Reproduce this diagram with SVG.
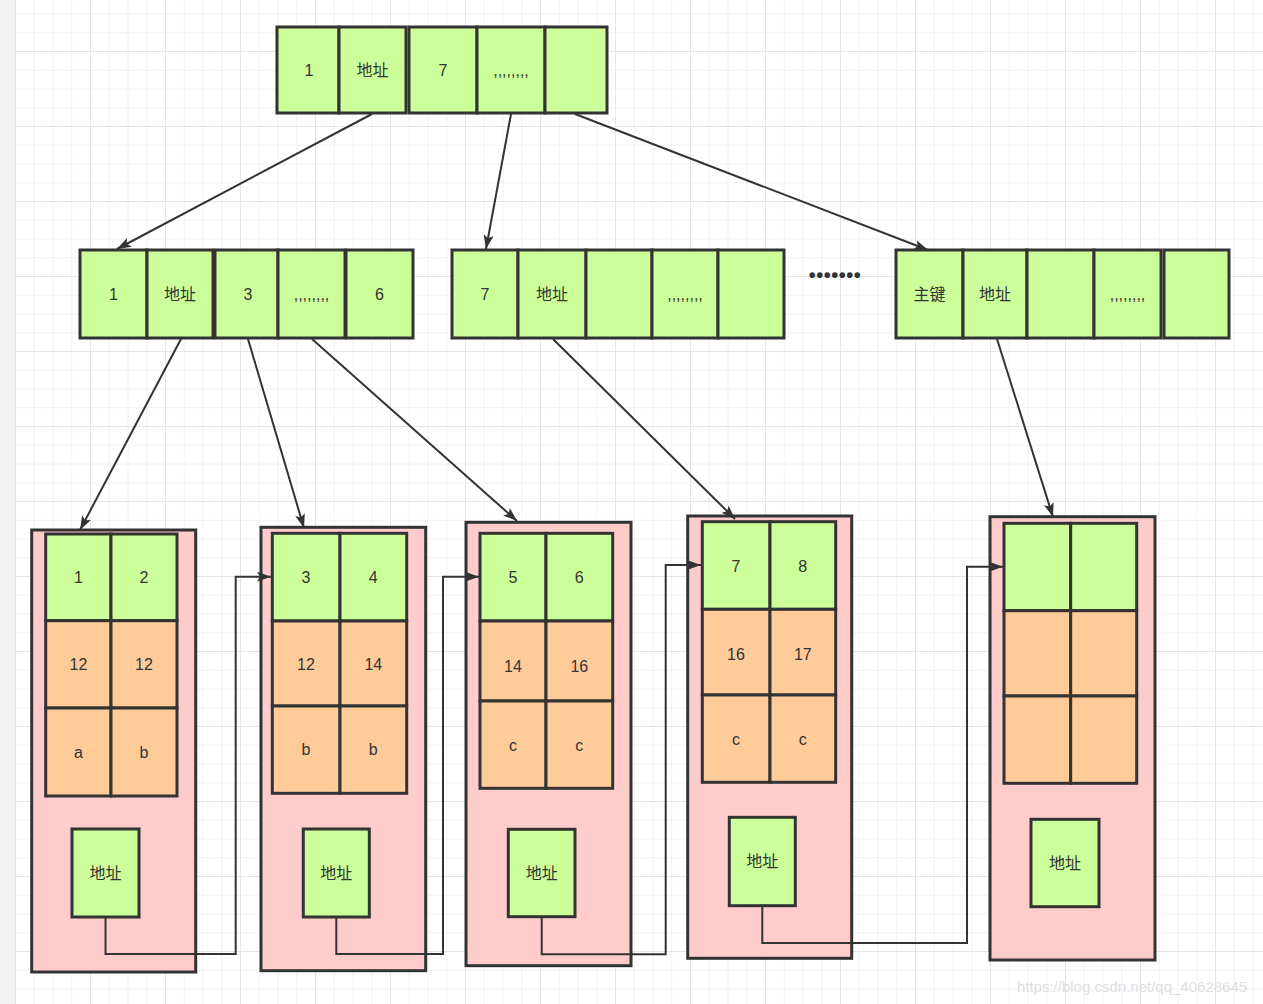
<svg xmlns="http://www.w3.org/2000/svg" width="1263" height="1004" viewBox="0 0 1263 1004">
<style>
.g{fill:#CCFF99;stroke:#333;stroke-width:3}
.o{fill:#FFCC99;stroke:#333;stroke-width:3}
.p{fill:#FFCCCC;stroke:#333;stroke-width:3}
.t{font-family:"Liberation Sans","Noto Sans CJK SC",sans-serif;font-size:16px;fill:#333;text-anchor:middle;dominant-baseline:central}
.c{fill:none;stroke:#333;stroke-width:2}
</style>
<defs>
<pattern id="grid" x="15" y="-24" width="75" height="75" patternUnits="userSpaceOnUse">
<path d="M0 19.25H75M0 38H75M0 56.75H75M19.25 0V75M38 0V75M56.75 0V75" stroke="#f2f2f2" stroke-width="1" fill="none"/>
<path d="M0 0.5H75M0.5 0V75" stroke="#e5e5e5" stroke-width="1" fill="none"/>
</pattern>
<marker id="arr" markerUnits="userSpaceOnUse" markerWidth="16" markerHeight="12" refX="14" refY="5" orient="auto">
<path d="M0,0 L14,5 L0,10 L3,5 Z" fill="#333"/>
</marker>
</defs>
<rect width="1263" height="1004" fill="#fff"/>
<rect width="1263" height="1004" fill="url(#grid)"/>
<rect width="15" height="1004" fill="#f2f2f2"/>

<g id="root">
<rect class="g" x="277" y="27" width="62" height="86"/><text class="t" x="309" y="70">1</text>
<rect class="g" x="339" y="27" width="67" height="86"/><text class="t" x="372.5" y="70">地址</text>
<rect class="g" x="409" y="27" width="68" height="86"/><text class="t" x="443" y="70">7</text>
<rect class="g" x="477" y="27" width="68" height="86"/><text class="t" x="511" y="70">,,,,,,,,</text>
<rect class="g" x="545" y="27" width="62" height="86"/>
</g>

<g id="mid1">
<rect class="g" x="80" y="250" width="67" height="88"/><text class="t" x="113.5" y="294">1</text>
<rect class="g" x="147" y="250" width="66" height="88"/><text class="t" x="180" y="294">地址</text>
<rect class="g" x="215" y="250" width="63" height="88"/><text class="t" x="248" y="294">3</text>
<rect class="g" x="278" y="250" width="67" height="88"/><text class="t" x="311.5" y="294">,,,,,,,,</text>
<rect class="g" x="346" y="250" width="67" height="88"/><text class="t" x="379.5" y="294">6</text>
</g>

<g id="mid2">
<rect class="g" x="452" y="250" width="66" height="88"/><text class="t" x="485" y="294">7</text>
<rect class="g" x="518" y="250" width="68" height="88"/><text class="t" x="552" y="294">地址</text>
<rect class="g" x="586" y="250" width="66" height="88"/>
<rect class="g" x="652" y="250" width="66" height="88"/><text class="t" x="685" y="294">,,,,,,,,</text>
<rect class="g" x="718" y="250" width="66" height="88"/>
</g>

<g id="dots"><text x="835" y="282" style="font-family:'Liberation Sans',sans-serif;font-size:20px;font-weight:bold;letter-spacing:0.5px;fill:#333;text-anchor:middle">•••••••</text></g>

<g id="mid3">
<rect class="g" x="896" y="250" width="67" height="88"/><text class="t" x="929.5" y="294">主键</text>
<rect class="g" x="963" y="250" width="64" height="88"/><text class="t" x="995" y="294">地址</text>
<rect class="g" x="1027" y="250" width="67" height="88"/>
<rect class="g" x="1094" y="250" width="67" height="88"/><text class="t" x="1127.5" y="294">,,,,,,,,</text>
<rect class="g" x="1164" y="250" width="65" height="88"/>
</g>

<g id="leaf1">
<rect class="p" x="31.7" y="530" width="164" height="442"/>
<rect class="g" x="45.7" y="534" width="65.3" height="86.7"/><text class="t" x="78.4" y="577">1</text>
<rect class="g" x="111" y="534" width="66" height="86.7"/><text class="t" x="144" y="577">2</text>
<rect class="o" x="45.7" y="620.7" width="65.3" height="87.3"/><text class="t" x="78.4" y="664.5">12</text>
<rect class="o" x="111" y="620.7" width="66" height="87.3"/><text class="t" x="144" y="664.5">12</text>
<rect class="o" x="45.7" y="708" width="65.3" height="88"/><text class="t" x="78.4" y="752">a</text>
<rect class="o" x="111" y="708" width="66" height="88"/><text class="t" x="144" y="752">b</text>
<rect class="g" x="72" y="829" width="67" height="88"/><text class="t" x="105.5" y="873">地址</text>
</g>

<g id="leaf2">
<rect class="p" x="261" y="527.3" width="164.7" height="443.4"/>
<rect class="g" x="272.3" y="533.3" width="67.7" height="87.7"/><text class="t" x="306" y="577">3</text>
<rect class="g" x="340" y="533.3" width="66.7" height="87.7"/><text class="t" x="373.3" y="577">4</text>
<rect class="o" x="272.3" y="621" width="67.7" height="85"/><text class="t" x="306" y="664.5">12</text>
<rect class="o" x="340" y="621" width="66.7" height="85"/><text class="t" x="373.3" y="664.5">14</text>
<rect class="o" x="272.3" y="706" width="67.7" height="87.3"/><text class="t" x="306" y="749.5">b</text>
<rect class="o" x="340" y="706" width="66.7" height="87.3"/><text class="t" x="373.3" y="749.5">b</text>
<rect class="g" x="303.3" y="829" width="66" height="88"/><text class="t" x="336.3" y="873">地址</text>
</g>

<g id="leaf3">
<rect class="p" x="466" y="522.3" width="165" height="443.4"/>
<rect class="g" x="480" y="533.3" width="66" height="87.7"/><text class="t" x="513" y="577">5</text>
<rect class="g" x="546" y="533.3" width="66.7" height="87.7"/><text class="t" x="579.3" y="577">6</text>
<rect class="o" x="480" y="621" width="66" height="80"/><text class="t" x="513" y="666">14</text>
<rect class="o" x="546" y="621" width="66.7" height="80"/><text class="t" x="579.3" y="666">16</text>
<rect class="o" x="480" y="701" width="66" height="87.3"/><text class="t" x="513" y="745">c</text>
<rect class="o" x="546" y="701" width="66.7" height="87.3"/><text class="t" x="579.3" y="745">c</text>
<rect class="g" x="508.3" y="829.3" width="66.7" height="87.4"/><text class="t" x="541.7" y="873">地址</text>
</g>

<g id="leaf4">
<rect class="p" x="687.7" y="516" width="164" height="442.3"/>
<rect class="g" x="702.3" y="521.7" width="67.7" height="87.6"/><text class="t" x="736" y="566">7</text>
<rect class="g" x="770" y="521.7" width="65.7" height="87.6"/><text class="t" x="802.8" y="566">8</text>
<rect class="o" x="702.3" y="609.3" width="67.7" height="85.7"/><text class="t" x="736" y="654">16</text>
<rect class="o" x="770" y="609.3" width="65.7" height="85.7"/><text class="t" x="802.8" y="654">17</text>
<rect class="o" x="702.3" y="695" width="67.7" height="87.3"/><text class="t" x="736" y="739">c</text>
<rect class="o" x="770" y="695" width="65.7" height="87.3"/><text class="t" x="802.8" y="739">c</text>
<rect class="g" x="729.3" y="817.3" width="66" height="88.4"/><text class="t" x="762.3" y="861">地址</text>
</g>

<g id="leaf5">
<rect class="p" x="990" y="516.7" width="165" height="443.3"/>
<rect class="g" x="1004" y="523.3" width="66.7" height="87.4"/>
<rect class="g" x="1070.7" y="523.3" width="66" height="87.4"/>
<rect class="o" x="1004" y="610.7" width="66.7" height="85.3"/>
<rect class="o" x="1070.7" y="610.7" width="66" height="85.3"/>
<rect class="o" x="1004" y="696" width="66.7" height="87.3"/>
<rect class="o" x="1070.7" y="696" width="66" height="87.3"/>
<rect class="g" x="1031" y="819.3" width="68" height="87.4"/><text class="t" x="1065" y="863">地址</text>
</g>

<g id="connectors">
<line class="c" x1="372" y1="114" x2="117" y2="249" marker-end="url(#arr)"/>
<line class="c" x1="511" y1="114" x2="486" y2="249" marker-end="url(#arr)"/>
<line class="c" x1="575" y1="114" x2="928" y2="250" marker-end="url(#arr)"/>
<line class="c" x1="181" y1="339" x2="80" y2="530" marker-end="url(#arr)"/>
<line class="c" x1="248" y1="339" x2="304" y2="528" marker-end="url(#arr)"/>
<line class="c" x1="312" y1="339" x2="517" y2="521" marker-end="url(#arr)"/>
<line class="c" x1="553" y1="339" x2="735" y2="519" marker-end="url(#arr)"/>
<line class="c" x1="997" y1="339" x2="1053" y2="517" marker-end="url(#arr)"/>
<path class="c" d="M105.5 917V954H235.7V576.7H271" marker-end="url(#arr)"/>
<path class="c" d="M336.3 917V954H443V576.7H479" marker-end="url(#arr)"/>
<path class="c" d="M541.7 917V954.3H665.7V565H701" marker-end="url(#arr)"/>
<path class="c" d="M762.3 906V943H967V566.7H1003" marker-end="url(#arr)"/>
</g>

<text x="1132" y="992" style="font-family:'Liberation Sans',sans-serif;font-size:15px;fill:#dedede;text-anchor:middle">https://blog.csdn.net/qq_40628645</text>
</svg>
